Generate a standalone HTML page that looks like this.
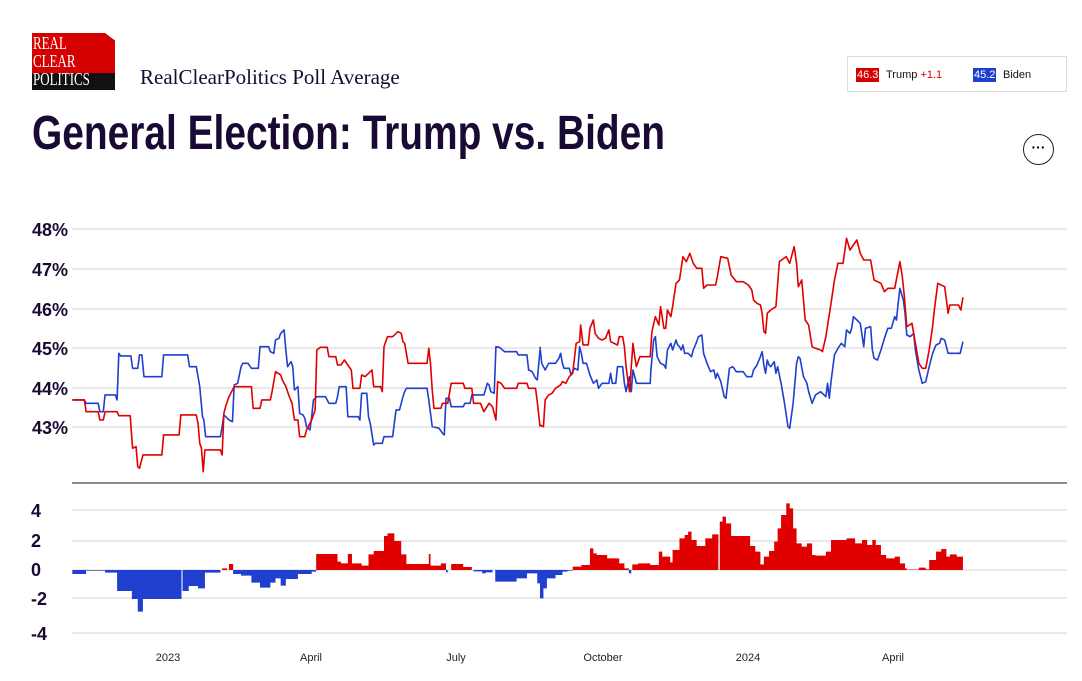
<!DOCTYPE html>
<html><head><meta charset="utf-8"><style>
body{margin:0;width:1082px;height:681px;background:#fff;font-family:"Liberation Sans",sans-serif;overflow:hidden;position:relative}
.a{position:absolute}
</style></head><body>
<div class="a" style="left:32px;top:33px;width:83px;height:42px;background:#d50000;clip-path:polygon(0 0,88% 0,100% 18%,100% 100%,0 100%)"></div>
<div class="a" style="left:32px;top:73px;width:83px;height:17px;background:#111"></div>
<div class="a" style="left:33px;top:34px;color:#fff;font-family:'Liberation Serif',serif;font-size:18px;line-height:18px;transform:scaleX(.72);transform-origin:0 0">REAL<br>CLEAR<br>POLITICS</div>
<div class="a" style="left:140px;top:65px;font-family:'Liberation Serif',serif;font-size:21px;color:#1a0a33">RealClearPolitics Poll Average</div>
<div class="a" style="left:32px;top:106px;font-size:48px;font-weight:bold;color:#1a0a33;white-space:nowrap;transform:scaleX(.81);transform-origin:0 0">General Election: Trump vs. Biden</div>
<div class="a" style="left:847px;top:56px;width:220px;height:36px;border:1px solid #ddd;box-sizing:border-box;font-size:11px;color:#111">
 <span class="a" style="left:8px;top:11px;background:#d50000;color:#fff;padding:1px 1px">46.3</span>
 <span class="a" style="left:38px;top:12px">Trump <b style="color:#d50000;font-weight:normal">+1.1</b></span>
 <span class="a" style="left:125px;top:11px;background:#1f3fcf;color:#fff;padding:1px 1px">45.2</span>
 <span class="a" style="left:155px;top:12px">Biden</span>
</div>
<div class="a" style="left:1023px;top:134px;width:31px;height:31px;border:1.5px solid #222;border-radius:50%;box-sizing:border-box;text-align:center;font-size:14px;line-height:24px;font-weight:bold">&middot;&middot;&middot;</div>
<svg class="a" style="left:0;top:0" width="1082" height="681">
<g stroke="#e2e2e2" stroke-width="1.5">
<line x1="72" x2="1067" y1="229" y2="229"/><line x1="72" x2="1067" y1="269" y2="269"/><line x1="72" x2="1067" y1="309" y2="309"/><line x1="72" x2="1067" y1="348" y2="348"/><line x1="72" x2="1067" y1="388" y2="388"/><line x1="72" x2="1067" y1="427" y2="427"/>
<line x1="72" x2="1067" y1="510" y2="510"/><line x1="72" x2="1067" y1="541" y2="541"/><line x1="72" x2="1067" y1="570" y2="570"/><line x1="72" x2="1067" y1="598" y2="598"/><line x1="72" x2="1067" y1="633" y2="633"/>
</g>
<line x1="72" x2="1067" y1="483" y2="483" stroke="#666" stroke-width="1.5"/>
<g font-weight="bold" font-size="18" fill="#1a0a33" text-anchor="end">
<text x="68" y="236">48%</text><text x="68" y="276">47%</text><text x="68" y="316">46%</text><text x="68" y="355">45%</text><text x="68" y="395">44%</text><text x="68" y="434">43%</text>
</g>
<g font-weight="bold" font-size="18" fill="#1a0a33">
<text x="31" y="517">4</text><text x="31" y="547">2</text><text x="31" y="576">0</text><text x="31" y="605">-2</text><text x="31" y="640">-4</text>
</g>
<g font-size="11" fill="#222" text-anchor="middle">
<text x="168" y="661">2023</text><text x="311" y="661">April</text><text x="456" y="661">July</text><text x="603" y="661">October</text><text x="748" y="661">2024</text><text x="893" y="661">April</text>
</g>
<g transform="translate(0,475) scale(0.3444,0.3333)">
<path fill="#e00000" d="M918 285V237H980V260H990V265H1010V237H1022V265H1050V272H1070V238H1085V228H1115V183H1125V175H1145V198H1165V238H1180V267H1245V237H1250V272H1280V265H1295V285ZM1310 285V267H1345V276H1370V285ZM645 285V280H660V285ZM665 285V267H677V285Z"/>
<path fill="#1f3fcf" d="M210 285V297H250V287H305V293H340V348H383V372H400V410H415V372H527V285ZM530 285V348H548V333H575V340H595V293H640V285ZM677 285V297H700V302H730V323H755V338H785V323H800V310H815V332H830V312H865V297H905V290H918V285ZM1295 285V292H1300V285ZM1375 285V289H1400V295H1410V292H1430V285ZM1438 285V320H1500V310H1530V295H1560V325H1568V285Z"/>
</g>
<g transform="translate(540,475) scale(0.3444,0.3333)">
<path fill="#1f3fcf" d="M0 285V370H10V340H20V310H45V300H65V290H80V287H95V285ZM258 285V295H265V285Z"/>
<path fill="#e00000" d="M95 285V275H120V270H145V220H155V235H165V240H195V250H230V265H245V280H258V285ZM268 285V268H285V265H320V270H345V230H355V245H378V262H385V225H405V190H420V180H430V170H440V195H455V213H480V190H500V178H518V285ZM522 285V140H530V125H540V145H555V183H610V213H625V230H640V268H650V245H665V228H680V200H690V160H700V120H715V85H725V100H735V160H745V205H760V215H775V205H790V240H800V242H830V230H845V195H890V190H915V205H935V195H950V210H965V195H975V210H990V240H1005V250H1030V245H1045V265H1060V280H1065V284H1100V278H1120V283H1130V255H1150V230H1165V222H1180V245H1190V238H1210V245H1228V285Z"/>
</g>
<g fill="none" stroke-width="1.6" stroke-linejoin="round">
<g transform="translate(0,210) scale(0.3444,0.3333)">
<polyline vector-effect="non-scaling-stroke" stroke="#1f3fcf" points="210,570 245,570 250,580 285,580 290,605 300,605 305,555 335,555 340,570 345,430 350,438 380,438 385,475 400,475 405,435 412,435 418,500 470,500 475,435 545,435 550,470 570,470 575,500 580,530 588,620 592,630 597,680 640,680 645,650 650,615 665,630 675,635 680,525 690,520 700,470 705,460 720,460 730,475 750,475 755,410 780,410 785,425 795,430 800,390 810,385 815,370 825,360 830,420 835,470 845,455 850,470 855,540 865,530 870,610 880,615 885,625 890,650 900,660 905,620 910,570 920,560 945,560 955,580 975,580 980,560 985,530 1005,530 1010,620 1040,620 1045,630 1050,550 1065,550 1070,620 1075,640 1085,705 1090,700 1110,700 1115,680 1140,680 1145,640 1150,600 1160,600 1170,560 1175,545 1180,535 1240,535 1245,570 1255,650 1275,655 1285,670 1290,675 1295,565 1305,565 1310,590 1345,590 1350,580 1365,580 1370,555 1405,555 1415,520 1420,525 1425,545 1435,550 1440,410 1450,412 1465,425 1500,425 1505,435 1530,435 1535,480 1545,485 1555,505 1560,510 1568,420"/>
<polyline vector-effect="non-scaling-stroke" stroke="#e00000" points="210,570 245,570 250,605 285,605 290,630 300,630 305,605 340,605 345,617 378,617 385,715 395,710 400,770 405,775 415,735 470,735 475,675 520,675 525,615 570,615 575,640 580,700 585,715 590,785 595,720 640,720 645,735 650,610 655,590 665,560 670,550 680,530 730,530 735,595 755,595 760,570 785,570 790,545 800,485 815,495 820,510 830,530 840,560 848,580 855,630 865,630 870,680 885,680 890,660 905,630 915,600 920,420 930,412 950,412 955,440 975,440 980,465 990,465 1000,450 1010,465 1020,480 1025,535 1045,535 1050,495 1060,500 1075,485 1080,480 1085,530 1105,530 1110,545 1115,410 1125,380 1140,380 1155,365 1165,370 1170,395 1175,400 1185,460 1240,460 1245,415 1250,460 1255,540 1260,595 1280,595 1285,580 1300,580 1310,520 1345,520 1350,535 1370,535 1375,580 1395,580 1405,605 1420,580 1430,590 1440,630 1445,515 1455,520 1465,535 1500,535 1505,520 1530,520 1535,535 1555,535 1560,575 1568,650"/>
</g>
<g transform="translate(540,210) scale(0.3444,0.3333)">
<polyline vector-effect="non-scaling-stroke" stroke="#1f3fcf" points="0,410 5,460 15,480 25,460 45,460 55,445 60,430 65,460 70,475 85,475 90,495 100,475 110,480 115,410 120,430 125,460 135,460 145,495 155,520 165,510 170,535 180,520 200,520 205,490 210,520 220,520 225,470 240,470 245,520 250,545 255,520 260,500 265,545 270,480 280,520 320,520 322,480 330,390 335,380 340,440 350,460 360,465 365,475 370,420 380,400 385,420 395,390 400,405 405,410 410,420 415,405 420,430 430,430 440,440 445,420 455,395 460,380 470,375 475,430 485,460 495,485 505,480 510,505 515,490 525,515 535,560 540,565 545,520 550,475 560,470 570,485 590,485 600,500 615,500 620,480 630,465 640,440 645,425 650,465 655,490 660,450 665,465 670,470 680,455 685,490 690,470 700,520 710,580 720,650 725,655 735,580 745,460 750,440 755,445 765,500 775,520 780,545 790,580 800,555 815,545 830,560 835,520 840,565 845,515 855,435 865,415 875,400 885,410 890,360 900,370 905,355 910,320 920,330 930,340 940,410 945,355 960,350 965,420 970,445 980,450 990,420 1000,385 1010,355 1020,355 1030,320 1035,330 1040,280 1045,235 1055,270 1060,310 1065,375 1075,380 1085,370 1090,420 1100,480 1110,520 1120,515 1130,470 1140,430 1150,405 1160,400 1165,385 1175,390 1185,430 1220,430 1228,395"/>
<polyline vector-effect="non-scaling-stroke" stroke="#e00000" points="0,645 10,650 15,570 25,555 35,550 45,535 60,525 65,515 75,520 85,500 95,490 105,400 115,395 118,345 125,405 140,405 145,355 155,330 160,370 170,385 180,390 190,385 200,360 205,395 215,400 225,405 230,380 240,380 245,410 250,470 255,510 260,545 265,470 270,400 275,440 280,470 290,440 320,440 325,365 335,320 345,345 350,290 360,355 365,355 370,300 380,320 385,290 395,220 405,210 415,140 425,155 435,130 445,160 455,175 470,175 475,235 485,225 510,225 515,200 525,140 545,145 555,195 570,215 590,215 605,225 615,240 620,270 630,280 640,285 645,310 650,365 655,370 660,310 670,300 685,290 695,155 715,140 725,160 738,110 745,160 750,230 760,210 770,330 780,345 790,410 800,415 815,420 820,425 830,380 845,280 855,210 865,160 880,160 890,85 900,120 920,90 930,130 940,150 960,150 970,210 990,220 1000,245 1010,235 1030,235 1045,155 1052,200 1058,260 1065,350 1080,340 1090,400 1100,460 1110,475 1120,475 1130,420 1140,350 1145,300 1155,220 1175,230 1185,310 1190,285 1215,285 1222,300 1228,262"/>
</g>
</g>
</svg>
</body></html>
